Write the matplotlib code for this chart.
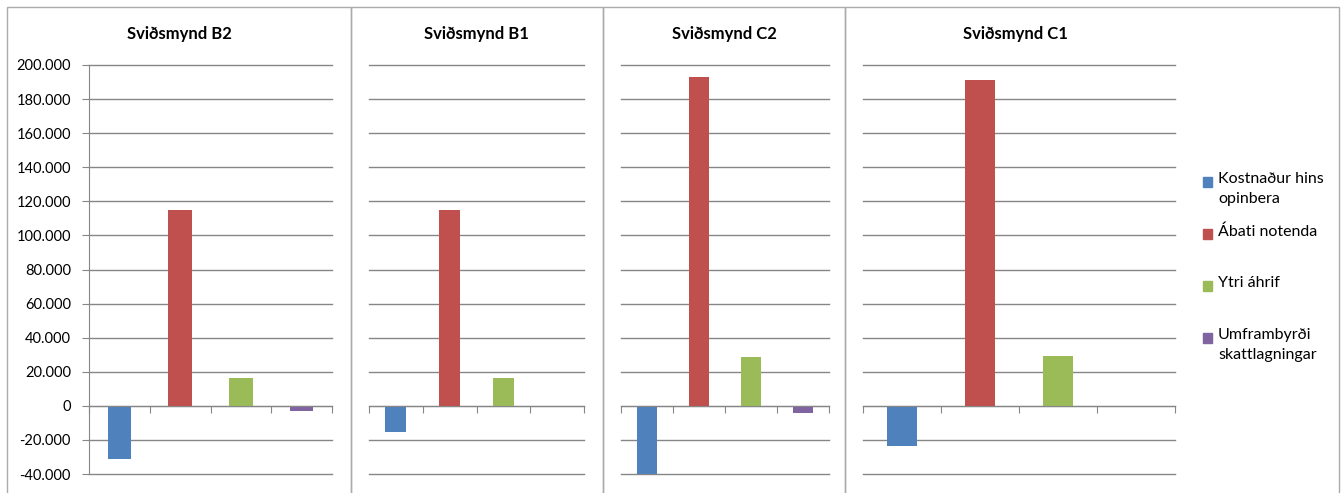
import matplotlib.pyplot as plt
from matplotlib.patches import Rectangle
from matplotlib.ticker import FuncFormatter

plt.rcParams['font.family'] = ['Lato', 'DejaVu Sans']

# Data
scenarios = ['Sviðsmynd B2', 'Sviðsmynd B1', 'Sviðsmynd C2', 'Sviðsmynd C1']
series = ['Kostnaður hins\nopinbera', 'Ábati notenda', 'Ytri áhrif', 'Umframbyrði\nskattlagningar']
kostnadur = [-31400, -15400, -40200, -23800]
abati = [115200, 115200, 192800, 191200]
ytri = [16400, 16400, 28500, 29200]
umframbyrdi = [-3100, 0, -4100, 0]
colors = ['#4F81BD', '#C0504D', '#9BBB59', '#8064A2']

W, H = 1342, 493
fig = plt.figure(figsize=(W / 100, H / 100), dpi=100)

# panel frames (px): left, right
frames = [(7, 351), (351, 603), (603, 845), (845, 1339)]
# plot areas (px): left, right
areas = [(89, 332), (369, 584), (621, 829), (863, 1175)]
title_x = [179, 476, 724, 1015]
top_px, bot_px = 65, 474

for (l, r) in frames:
    fig.patches.append(Rectangle((l / W, -0.1), (r - l) / W, 1.1 - 7 / H,
                                 transform=fig.transFigure, fill=False,
                                 edgecolor='#ababab', linewidth=1))

fmt = FuncFormatter(lambda v, p: f'{int(v):,}'.replace(',', '.'))

for i, name in enumerate(scenarios):
    l, r = areas[i]
    ax = fig.add_axes([l / W, 1 - bot_px / H, (r - l) / W, (bot_px - top_px) / H])
    vals = [kostnadur[i], abati[i], ytri[i], umframbyrdi[i]]
    ax.bar(range(4), vals, width=0.39, color=colors, zorder=3)
    ax.set_xlim(-0.5, 3.5)
    ax.set_ylim(-40000, 200000)
    ax.set_yticks(range(-40000, 200001, 20000))
    ax.yaxis.grid(True, color='#868686', linewidth=1, zorder=0, clip_on=False)
    ax.set_axisbelow(True)
    for s in ['top', 'right']:
        ax.spines[s].set_visible(False)
    ax.spines['bottom'].set_position(('data', 0))
    ax.spines['bottom'].set_color('#868686')
    ax.spines['bottom'].set_zorder(4)
    ax.set_xticks([-0.5, 0.5, 1.5, 2.5, 3.5])
    ax.tick_params(axis='x', direction='out', length=5, color='#868686', labelbottom=False)
    if i == 0:
        ax.spines['left'].set_color('#868686')
        ax.yaxis.set_major_formatter(fmt)
        ax.tick_params(axis='y', direction='out', length=5, color='#868686',
                       labelsize=10.5, pad=8)
    else:
        ax.spines['left'].set_visible(False)
        ax.tick_params(axis='y', length=0, labelleft=False)
    fig.text(title_x[i] / W, 1 - 34 / H, name, ha='center', va='center',
             fontsize=12, fontweight='bold')

# legend
leg_y = [182, 234, 286, 338]
for j, lab in enumerate(series):
    y = 1 - leg_y[j] / H
    fig.patches.append(Rectangle((1203 / W, y - 5 / H), 9 / W, 10 / H,
                                 transform=fig.transFigure, color=colors[j]))
    fig.text(1218 / W, y + 10 / H, lab, ha='left', va='top', fontsize=11.5,
             linespacing=1.55)

fig.savefig('out.png', dpi=100)
